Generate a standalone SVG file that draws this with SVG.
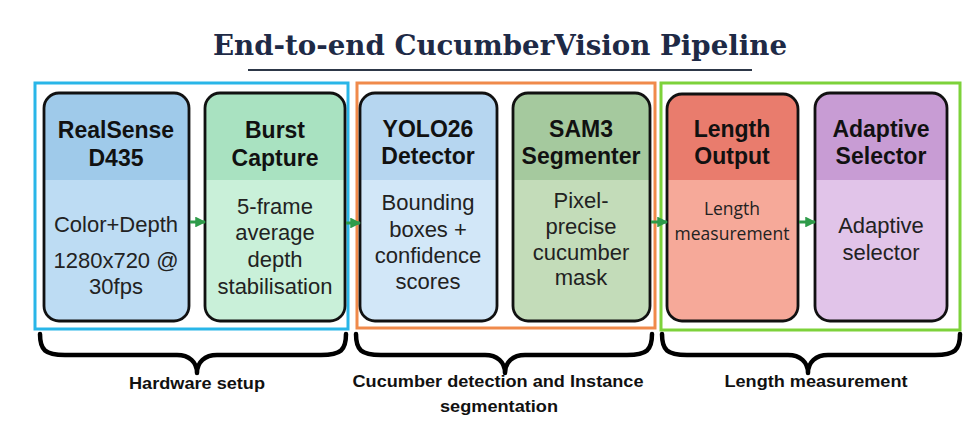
<svg xmlns="http://www.w3.org/2000/svg" width="980" height="440" viewBox="0 0 980 440">
<style>
.title{font-family:"DejaVu Serif","Liberation Serif",serif;font-weight:bold;font-size:28px;fill:#1e2a46}
.hd{font-family:"Liberation Sans",Arial,sans-serif;font-weight:bold;font-size:23px;fill:#111;text-anchor:middle}
.bd{font-family:"Liberation Sans",Arial,sans-serif;font-size:22px;fill:#222;text-anchor:middle}
.bd2{font-family:"Open Sans","Noto Sans",sans-serif;font-size:17.5px;fill:#222;text-anchor:middle}
.lbl{font-family:"Liberation Sans",Arial,sans-serif;font-weight:bold;font-size:16.5px;fill:#111;text-anchor:middle}
.grp{fill:none;stroke-width:3}
.brace{fill:none;stroke:#000;stroke-width:4.5;stroke-linecap:round;stroke-linejoin:round}
.conn{stroke:#2e9b4a;stroke-width:3;fill:none}
</style>
<defs>
<marker id="ah" viewBox="0 0 10 10" refX="9" refY="5" markerWidth="3.6" markerHeight="3.6" orient="auto" markerUnits="strokeWidth">
<path d="M0,0 L10,5 L0,10 Z" fill="#2e9b4a"/>
</marker>
</defs>
<rect width="980" height="440" fill="#fff"/>
<text class="title" x="500" y="55" text-anchor="middle" textLength="574" lengthAdjust="spacingAndGlyphs">End-to-end CucumberVision Pipeline</text>
<line x1="248" y1="70" x2="752" y2="70" stroke="#2d3748" stroke-width="2"/>

<g id="groups">
<rect class="grp" x="35" y="83" width="313" height="246" stroke="#29b6e8"/>
<rect class="grp" x="357" y="83" width="298" height="245" stroke="#f08a4b"/>
<rect class="grp" x="661" y="83" width="299" height="247" stroke="#7dd23a"/>
</g>

<g id="n1">
<rect x="44" y="93" width="145" height="228" rx="15" fill="#bddcf3"/>
<path d="M44,108 A15,15 0 0 1 59,93 H174 A15,15 0 0 1 189,108 V180 H44 Z" fill="#9fcaea"/>
<rect x="44" y="93" width="145" height="228" rx="15" fill="none" stroke="#111" stroke-width="2.8"/>
<text class="hd" x="116" y="138">RealSense</text>
<text class="hd" x="116" y="166">D435</text>
<text class="bd" x="116" y="232">Color+Depth</text>
<text class="bd" x="116" y="268">1280x720 @</text>
<text class="bd" x="116" y="294">30fps</text>
</g>

<g id="n2">
<rect x="205" y="93" width="140" height="228" rx="15" fill="#c9f0d9"/>
<path d="M205,108 A15,15 0 0 1 220,93 H330 A15,15 0 0 1 345,108 V180 H205 Z" fill="#a9e2c1"/>
<rect x="205" y="93" width="140" height="228" rx="15" fill="none" stroke="#111" stroke-width="2.8"/>
<text class="hd" x="275" y="138">Burst</text>
<text class="hd" x="275" y="166">Capture</text>
<text class="bd" x="275" y="214">5-frame</text>
<text class="bd" x="275" y="240">average</text>
<text class="bd" x="275" y="267">depth</text>
<text class="bd" x="275" y="294">stabilisation</text>
</g>

<g id="n3">
<rect x="360" y="93" width="137" height="228" rx="15" fill="#d2e7f8"/>
<path d="M360,108 A15,15 0 0 1 375,93 H482 A15,15 0 0 1 497,108 V180 H360 Z" fill="#b6d6f0"/>
<rect x="360" y="93" width="137" height="228" rx="15" fill="none" stroke="#111" stroke-width="2.8"/>
<text class="hd" x="428" y="137">YOLO26</text>
<text class="hd" x="428" y="164">Detector</text>
<text class="bd" x="428" y="210">Bounding</text>
<text class="bd" x="428" y="237">boxes +</text>
<text class="bd" x="428" y="263">confidence</text>
<text class="bd" x="428" y="289">scores</text>
</g>

<g id="n4">
<rect x="513" y="93" width="137" height="228" rx="15" fill="#c3dcb9"/>
<path d="M513,108 A15,15 0 0 1 528,93 H635 A15,15 0 0 1 650,108 V180 H513 Z" fill="#a5c99e"/>
<rect x="513" y="93" width="137" height="228" rx="15" fill="none" stroke="#111" stroke-width="2.8"/>
<text class="hd" x="581" y="137">SAM3</text>
<text class="hd" x="581" y="164">Segmenter</text>
<text class="bd" x="581" y="208">Pixel-</text>
<text class="bd" x="581" y="234">precise</text>
<text class="bd" x="581" y="260">cucumber</text>
<text class="bd" x="581" y="285">mask</text>
</g>

<g id="n5">
<rect x="667" y="94" width="131" height="227" rx="15" fill="#f6a999"/>
<path d="M667,109 A15,15 0 0 1 682,94 H783 A15,15 0 0 1 798,109 V180 H667 Z" fill="#e97c6d"/>
<rect x="667" y="94" width="131" height="227" rx="15" fill="none" stroke="#111" stroke-width="2.8"/>
<text class="hd" x="732" y="137">Length</text>
<text class="hd" x="732" y="164">Output</text>
<text class="bd2" x="732" y="215">Length</text>
<text class="bd2" x="732" y="240">measurement</text>
</g>

<g id="n6">
<rect x="815" y="93" width="132" height="228" rx="15" fill="#e1c4e9"/>
<path d="M815,108 A15,15 0 0 1 830,93 H932 A15,15 0 0 1 947,108 V180 H815 Z" fill="#c89cd4"/>
<rect x="815" y="93" width="132" height="228" rx="15" fill="none" stroke="#111" stroke-width="2.8"/>
<text class="hd" x="881" y="137">Adaptive</text>
<text class="hd" x="881" y="164">Selector</text>
<text class="bd" x="881" y="233">Adaptive</text>
<text class="bd" x="881" y="260">selector</text>
</g>

<g id="connectors">
<line class="conn" x1="190" y1="222" x2="205" y2="222" marker-end="url(#ah)"/>
<line class="conn" x1="346" y1="223" x2="360" y2="223" marker-end="url(#ah)"/>
<line class="conn" x1="651" y1="222" x2="667" y2="222" marker-end="url(#ah)"/>
<line class="conn" x1="799" y1="222" x2="815" y2="222" marker-end="url(#ah)"/>
</g>

<g id="braces">
<path class="brace" d="M40,334 C40,350 45,355 65,355 H177 C189,355 197,362 197,373 C197,362 205,355 217,355 H321 C341,355 346,350 346,334"/>
<path class="brace" d="M356,334 C356,350 361,355 381,355 H485 C497,355 505,362 505,373 C505,362 513,355 525,355 H627 C647,355 652,350 652,334"/>
<path class="brace" d="M662,334 C662,350 667,355 687,355 H788 C800,355 808,362 808,373 C808,362 816,355 828,355 H935 C955,355 960,350 960,334"/>
</g>

<g id="labels">
<text class="lbl" x="197" y="389" textLength="136" lengthAdjust="spacingAndGlyphs">Hardware setup</text>
<text class="lbl" x="498" y="387" textLength="291" lengthAdjust="spacingAndGlyphs">Cucumber detection and Instance</text>
<text class="lbl" x="499" y="412" textLength="118" lengthAdjust="spacingAndGlyphs">segmentation</text>
<text class="lbl" x="816" y="387" textLength="183" lengthAdjust="spacingAndGlyphs">Length measurement</text>
</g>
</svg>
